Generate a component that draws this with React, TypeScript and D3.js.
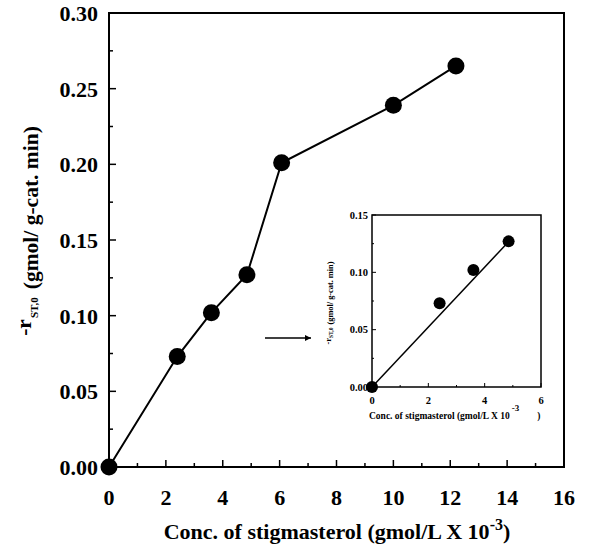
import React from 'react';
import { scaleLinear, line, range } from 'd3';

// main series (conc. x 10^-3 gmol/L vs initial rate)
const concValues = [0, 2.4, 3.6, 4.85, 6.07, 10.0, 12.2];
const rateValues = [0, 0.073, 0.102, 0.127, 0.201, 0.239, 0.265];
const xTickLabels = [0, 2, 4, 6, 8, 10, 12, 14, 16];
const yTickLabels = [0, 0.05, 0.1, 0.15, 0.2, 0.25, 0.3];

// inset: low concentration region with linear fit
const insetConc = [0, 2.4, 3.6, 4.85];
const insetRate = [0, 0.073, 0.102, 0.127];
const fitConc = [0, 4.9];
const fitRate = [0, 0.128];
const insetXTicks = [0, 2, 4, 6];
const insetYTicks = [0, 0.05, 0.1, 0.15];

const font = '"Liberation Serif", "Times New Roman", serif';

const App = () => {
  const width = 589;
  const height = 551;

  const x = scaleLinear().domain([0, 16]).range([109, 564]);
  const y = scaleLinear().domain([0, 0.3]).range([467, 13]);

  const ix = scaleLinear().domain([0, 6]).range([372, 541]);
  const iy = scaleLinear().domain([0, 0.15]).range([387, 215]);

  const mainLine = line<number>()
    .x((d, i) => x(concValues[i]))
    .y(d => y(d));
  const fitLine = line<number>()
    .x((d, i) => ix(fitConc[i]))
    .y(d => iy(d));

  const xMinor = range(1, 16, 2);
  const yMinor = range(0.025, 0.3, 0.05);
  const ixMinor = [1, 3, 5];
  const iyMinor = [0.025, 0.075, 0.125];

  return (
    <svg
      width={width}
      height={height}
      style={{ position: 'absolute', left: 0, top: 0, background: '#fff' }}
      fontFamily={font}
      fontWeight="bold"
    >
      {/* main frame */}
      <rect x={x(0)} y={y(0.3)} width={x(16) - x(0)} height={y(0) - y(0.3)}
        fill="none" stroke="#000" strokeWidth={2} />

      {/* x ticks */}
      {xTickLabels.map(t => (
        <g key={'xt' + t}>
          <line x1={x(t)} x2={x(t)} y1={y(0)} y2={y(0) - 7} stroke="#000" strokeWidth={1.5} />
          <text x={x(t)} y={505} textAnchor="middle" fontSize={22}>{t}</text>
        </g>
      ))}
      {xMinor.map(t => (
        <line key={'xm' + t} x1={x(t)} x2={x(t)} y1={y(0)} y2={y(0) - 4} stroke="#000" strokeWidth={1.5} />
      ))}

      {/* y ticks */}
      {yTickLabels.map(t => (
        <g key={'yt' + t}>
          <line x1={x(0)} x2={x(0) + 7} y1={y(t)} y2={y(t)} stroke="#000" strokeWidth={1.5} />
          <text x={98} y={y(t) + 8} textAnchor="end" fontSize={22}>{t.toFixed(2)}</text>
        </g>
      ))}
      {yMinor.map(t => (
        <line key={'ym' + t} x1={x(0)} x2={x(0) + 4} y1={y(t)} y2={y(t)} stroke="#000" strokeWidth={1.5} />
      ))}

      {/* axis titles */}
      <text x={337} y={539} textAnchor="middle" fontSize={22}>
        Conc. of stigmasterol (gmol/L X 10<tspan dy={-9} fontSize={16}>-3</tspan><tspan dy={9}>)</tspan>
      </text>
      <text transform="translate(38,231) rotate(-90)" textAnchor="middle" fontSize={21.5}>
        <tspan dy={-7}>-r</tspan><tspan dx={1} dy={7} fontSize={11}>ST,0</tspan><tspan dx={8}>(gmol/ g-cat. min)</tspan>
      </text>

      {/* main series */}
      <path d={mainLine(rateValues) || ''} fill="none" stroke="#000" strokeWidth={2} />
      {rateValues.map((v, i) => (
        <circle key={'p' + i} cx={x(concValues[i])} cy={y(v)} r={8.5} fill="#000" />
      ))}

      {/* arrow */}
      <defs>
        <marker id="arrowHead" viewBox="0 0 10 10" refX={10} refY={5}
          markerWidth={8} markerHeight={6} orient="auto" markerUnits="userSpaceOnUse">
          <path d="M0,0 L10,5 L0,10 z" fill="#000" />
        </marker>
      </defs>
      <line x1={265} x2={311} y1={338} y2={338} stroke="#000" strokeWidth={1.5} markerEnd="url(#arrowHead)" />

      {/* inset */}
      <rect x={ix(0)} y={iy(0.15)} width={ix(6) - ix(0)} height={iy(0) - iy(0.15)}
        fill="#fff" stroke="#000" strokeWidth={1.5} />
      {insetXTicks.map(t => (
        <g key={'ixt' + t}>
          <line x1={ix(t)} x2={ix(t)} y1={iy(0)} y2={iy(0) - 4} stroke="#000" strokeWidth={1} />
          <text x={ix(t)} y={404} textAnchor="middle" fontSize={10.5}>{t}</text>
        </g>
      ))}
      {ixMinor.map(t => (
        <line key={'ixm' + t} x1={ix(t)} x2={ix(t)} y1={iy(0)} y2={iy(0) - 2} stroke="#000" strokeWidth={1} />
      ))}
      {insetYTicks.map(t => (
        <g key={'iyt' + t}>
          <line x1={ix(0)} x2={ix(0) + 4} y1={iy(t)} y2={iy(t)} stroke="#000" strokeWidth={1} />
          <text x={368} y={iy(t) + 3.5} textAnchor="end" fontSize={10.5}>{t.toFixed(2)}</text>
        </g>
      ))}
      {iyMinor.map(t => (
        <line key={'iym' + t} x1={ix(0)} x2={ix(0) + 2} y1={iy(t)} y2={iy(t)} stroke="#000" strokeWidth={1} />
      ))}
      <text x={369} y={419} fontSize={9.5}>
        Conc. of stigmasterol (gmol/L X 10<tspan dx={2} dy={-8} fontSize={9}>-3</tspan><tspan dx={18} dy={8}>)</tspan>
      </text>
      <text transform="translate(333,303) rotate(-90)" textAnchor="middle" fontSize={8.3}>
        <tspan dy={-2.5}>-r</tspan><tspan dy={2.5} fontSize={5.5}>ST,0</tspan><tspan dx={3}>(gmol/ g-cat. min)</tspan>
      </text>

      <path d={fitLine(fitRate) || ''} fill="none" stroke="#000" strokeWidth={1.5} />
      {insetRate.map((v, i) => (
        <circle key={'ip' + i} cx={ix(insetConc[i])} cy={iy(v)} r={6} fill="#000" />
      ))}
    </svg>
  );
};

export default App;
